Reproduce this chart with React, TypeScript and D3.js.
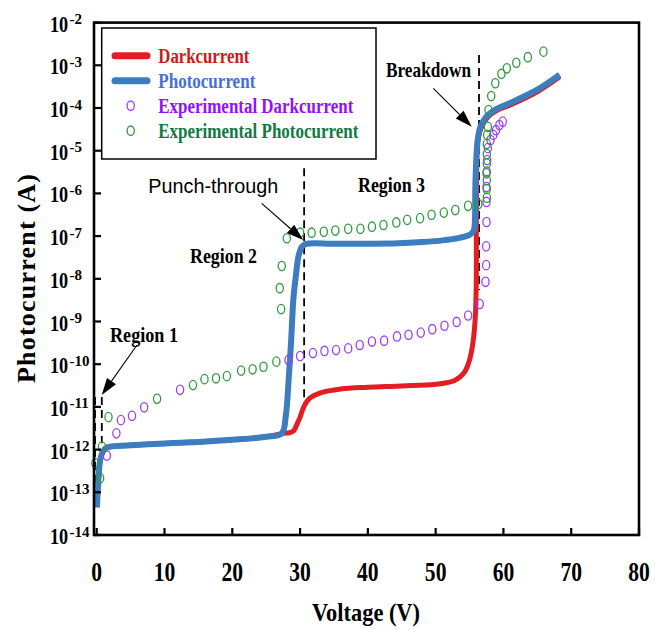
import React from "react";
import * as d3 from "d3";

// ---- data (Voltage V, log10 current A) ----
const photoModel: [number, number][] = [
  [0.03, -13.35], [0.25, -12.7], [0.5, -12.26], [0.9, -12.05], [1.5, -11.95], [5, -11.9],
  [13.8, -11.83], [20, -11.77], [25, -11.7], [27.3, -11.62], [27.9, -11.2], [28.3, -10.4],
  [28.7, -9.4], [29.0, -8.5], [29.4, -7.9], [29.8, -7.45], [30.3, -7.24], [30.9, -7.18],
  [35, -7.18], [40, -7.18], [44.5, -7.17], [48, -7.14], [51, -7.1], [53.5, -7.04], [55.0, -6.97],
  [55.6, -6.88], [55.8, -6.6], [55.85, -5.9], [56.0, -5.2], [56.2, -4.75], [56.6, -4.44],
  [57.6, -4.18], [59, -4.02], [61.0, -3.88], [65.0, -3.57], [68.3, -3.22],
];
const darkModel: [number, number][] = [
  [0.03, -13.35], [0.25, -12.7], [0.5, -12.26], [0.9, -12.05], [1.5, -11.95], [5, -11.9],
  [13.8, -11.83], [20, -11.77], [25, -11.7], [27.5, -11.62], [28.5, -11.6], [29.1, -11.55],
  [29.5, -11.42], [30.0, -11.24], [30.6, -10.98], [31.4, -10.8], [33, -10.67], [36, -10.58],
  [40, -10.54], [45, -10.51], [50, -10.47], [52.8, -10.38], [54.2, -10.2], [55.0, -9.9],
  [55.5, -9.5], [55.85, -8.9], [56.0, -8.0], [56.0, -6.9], [56.05, -5.7], [56.2, -4.8],
  [56.7, -4.47], [57.7, -4.21], [59, -4.06], [61, -3.93], [65, -3.62], [68.3, -3.27],
];
const expDark: [number, number][] = [
  [1.5, -12.14], [2.9, -11.62], [3.57, -11.31], [5.2, -11.21], [7.0, -11.01], [12.3, -10.6],
  [28.3, -9.9], [30.0, -9.81], [31.9, -9.74], [33.6, -9.69], [35.3, -9.67], [37.1, -9.63],
  [38.8, -9.55], [40.6, -9.47], [42.4, -9.45], [44.3, -9.35], [46.0, -9.31], [47.8, -9.26],
  [49.5, -9.18], [51.3, -9.1], [53.1, -9.01], [54.8, -8.86], [56.5, -8.59], [57.35, -8.07],
  [57.45, -7.68], [57.45, -7.24], [57.5, -6.67], [57.5, -6.2], [57.5, -5.85], [57.5, -5.53],
  [57.6, -5.22], [57.7, -4.94], [58.1, -4.75], [58.5, -4.63], [58.9, -4.52], [59.4, -4.4],
  [59.9, -4.32],
];
const expPhoto: [number, number][] = [
  [-0.2, -12.32], [0.5, -12.67], [0.77, -11.93], [1.74, -11.24], [8.9, -10.81], [14.2, -10.49],
  [15.9, -10.35], [17.6, -10.33], [19.2, -10.28], [21.3, -10.15], [23.0, -10.12], [24.6, -10.06],
  [26.5, -9.94], [27.2, -8.71], [27.0, -8.22], [27.3, -7.7], [28.05, -7.05], [30.0, -6.92],
  [31.7, -6.92], [33.5, -6.9], [35.2, -6.87], [37.1, -6.83], [38.9, -6.83], [40.6, -6.78],
  [42.3, -6.74], [44.2, -6.68], [45.8, -6.62], [47.7, -6.58], [49.4, -6.5], [51.2, -6.45],
  [52.9, -6.39], [54.8, -6.29], [56.3, -6.25], [57.55, -6.1], [57.55, -5.9], [57.55, -5.69],
  [57.55, -5.49], [57.55, -5.3], [57.55, -5.08], [57.55, -4.84], [57.6, -4.63], [57.7, -4.44],
  [57.8, -4.05], [58.2, -3.72], [58.8, -3.42], [59.7, -3.2], [60.5, -3.07], [61.9, -2.94],
  [63.6, -2.81], [65.9, -2.68],
];

const xTicks = [0, 10, 20, 30, 40, 50, 60, 70, 80];
const yExps = [-14, -13, -12, -11, -10, -9, -8, -7, -6, -5, -4, -3, -2];

const legendItems = [
  { label: "Darkcurrent", kind: "line", color: "#e31d24", text: "#cc1b1b", w: 91 },
  { label: "Photocurrent", kind: "line", color: "#3b7dbf", text: "#4470d8", w: 97 },
  { label: "Experimental Darkcurrent", kind: "dot", color: "#9b3dff", text: "#9010ff", w: 195 },
  { label: "Experimental Photocurrent", kind: "dot", color: "#2e9a3e", text: "#0f7a46", w: 200 },
];

// dashed guide lines: [V, log from, log to]
const guides: [number, number, number][] = [
  [-0.25, -10.77, -12.99],
  [0.75, -10.77, -11.85],
  [30.6, -5.41, -10.96],
  [56.4, -2.76, -8.26],
];

const SERIF = "'Liberation Serif', 'Times New Roman', serif";
const SANS = "'Liberation Sans', Arial, sans-serif";

export default function App() {
  const L = 94, R = 639, T = 22.6, B = 535;
  const x = d3.scaleLinear().domain([-0.4, 80]).range([L, R]);
  const y = d3.scaleLog().domain([1e-14, 1e-2]).range([B, T]);
  const px = (d: [number, number]) => x(d[0]);
  const py = (d: [number, number]) => y(Math.pow(10, d[1]));
  const line = d3.line<[number, number]>().x(px).y(py).curve(d3.curveCatmullRom.alpha(0.5));

  const arrow = (x1: number, y1: number, x2: number, y2: number, key: string) => {
    const a = Math.atan2(y2 - y1, x2 - x1);
    const hl = 17, hw = 5.5;
    const bx = x2 - hl * Math.cos(a), by = y2 - hl * Math.sin(a);
    const p1 = [bx + hw * Math.sin(a), by - hw * Math.cos(a)];
    const p2 = [bx - hw * Math.sin(a), by + hw * Math.cos(a)];
    return (
      <g key={key}>
        <line x1={x1} y1={y1} x2={bx} y2={by} stroke="#000" strokeWidth={1.1} />
        <polygon points={`${x2},${y2} ${p1[0]},${p1[1]} ${p2[0]},${p2[1]}`} fill="#000" />
      </g>
    );
  };

  return (
    <svg width={664} height={630} style={{ position: "absolute", left: 0, top: 0, background: "#fff" }}>
      <rect x={0} y={0} width={664} height={630} fill="#fff" />
      {/* dashed guides */}
      {guides.map((g, i) => (
        <line key={i} x1={x(g[0])} x2={x(g[0])} y1={y(Math.pow(10, g[1]))} y2={y(Math.pow(10, g[2]))}
          stroke="#000" strokeWidth={1.8} strokeDasharray="8,5" />
      ))}
      {/* model curves */}
      <path d={line(darkModel) || ""} fill="none" stroke="#e31d24" strokeWidth={5} />
      <path d={line(photoModel) || ""} fill="none" stroke="#3b7dbf" strokeWidth={6} />
      {/* experimental */}
      {expDark.map((d, i) => (
        <ellipse key={"d" + i} cx={px(d)} cy={py(d)} rx={3.6} ry={4.7} fill="none" stroke="#9b3dff" strokeWidth={1.3} />
      ))}
      {expPhoto.map((d, i) => (
        <ellipse key={"p" + i} cx={px(d)} cy={py(d)} rx={3.6} ry={4.7} fill="none" stroke="#2e9a3e" strokeWidth={1.3} />
      ))}
      {/* frame */}
      <rect x={L} y={T} width={R - L} height={B - T} fill="none" stroke="#000" strokeWidth={2.6} />
      {xTicks.map((t) => (
        <g key={"xt" + t}>
          <line x1={x(t)} x2={x(t)} y1={B} y2={B - 7} stroke="#000" strokeWidth={2.2} />
          <text x={x(t)} y={581} textAnchor="middle" fontFamily={SERIF} fontWeight="bold" fontSize={27}
            textLength={String(t).length * 10.8} lengthAdjust="spacingAndGlyphs">{t}</text>
        </g>
      ))}
      {yExps.map((e) => {
        const yy = y(Math.pow(10, e));
        return (
          <g key={"yt" + e}>
            <line x1={L} x2={L + 7} y1={yy} y2={yy} stroke="#000" strokeWidth={2.2} />
            <text transform={`translate(50,${yy + 9}) scale(0.76,1)`} fontFamily={SERIF} fontWeight="bold" fontSize={24}>10</text>
            <text transform={`translate(69.5,${yy + 1.5})`} fontFamily={SERIF} fontWeight="bold" fontSize={15}>{String(e)}</text>
          </g>
        );
      })}
      {/* axis titles */}
      <text x={312} y={621} fontFamily={SERIF} fontWeight="bold" fontSize={26}
        textLength={108} lengthAdjust="spacingAndGlyphs">Voltage (V)</text>
      <text transform="translate(35,278) rotate(-90)" textAnchor="middle" fontFamily={SERIF} fontWeight="bold"
        fontSize={26} textLength={210} lengthAdjust="spacing" style={{ letterSpacing: "1px" }}>
        Photocurrent (A)
      </text>
      {/* annotations */}
      <text x={110} y={341.7} fontFamily={SERIF} fontWeight="bold" fontSize={20} textLength={68} lengthAdjust="spacingAndGlyphs">Region 1</text>
      <text x={190} y={263.3} fontFamily={SERIF} fontWeight="bold" fontSize={20} textLength={67} lengthAdjust="spacingAndGlyphs">Region 2</text>
      <text x={358} y={191.7} fontFamily={SERIF} fontWeight="bold" fontSize={20} textLength={67} lengthAdjust="spacingAndGlyphs">Region 3</text>
      <text x={386} y={76.7} fontFamily={SERIF} fontWeight="bold" fontSize={21} textLength={85} lengthAdjust="spacingAndGlyphs">Breakdown</text>
      <text x={148.3} y={193.3} fontFamily={SANS} fontSize={21} textLength={130} lengthAdjust="spacingAndGlyphs">Punch-through</text>
      {arrow(137, 345, 101.7, 395, "a1")}
      {arrow(261.7, 203.3, 303.3, 240, "a2")}
      {arrow(433.3, 88.3, 471.7, 126.7, "a3")}
      {/* legend */}
      <rect x={101.7} y={28} width={274.3} height={131} fill="#fff" stroke="#000" strokeWidth={1.5} />
      {legendItems.map((it, i) => {
        const cy = 55.7 + i * 25;
        return (
          <g key={it.label}>
            {it.kind === "line" ? (
              <line x1={115} x2={147} y1={cy} y2={cy} stroke={it.color} strokeWidth={7} strokeLinecap="round" />
            ) : (
              <ellipse cx={130.7} cy={cy} rx={3.6} ry={4.7} fill="none" stroke={it.color} strokeWidth={1.3} />
            )}
            <text x={158.3} y={cy + 7.5} fontFamily={SERIF} fontWeight="bold" fontSize={20} fill={it.text}
              textLength={it.w} lengthAdjust="spacingAndGlyphs">{it.label}</text>
          </g>
        );
      })}
    </svg>
  );
}
